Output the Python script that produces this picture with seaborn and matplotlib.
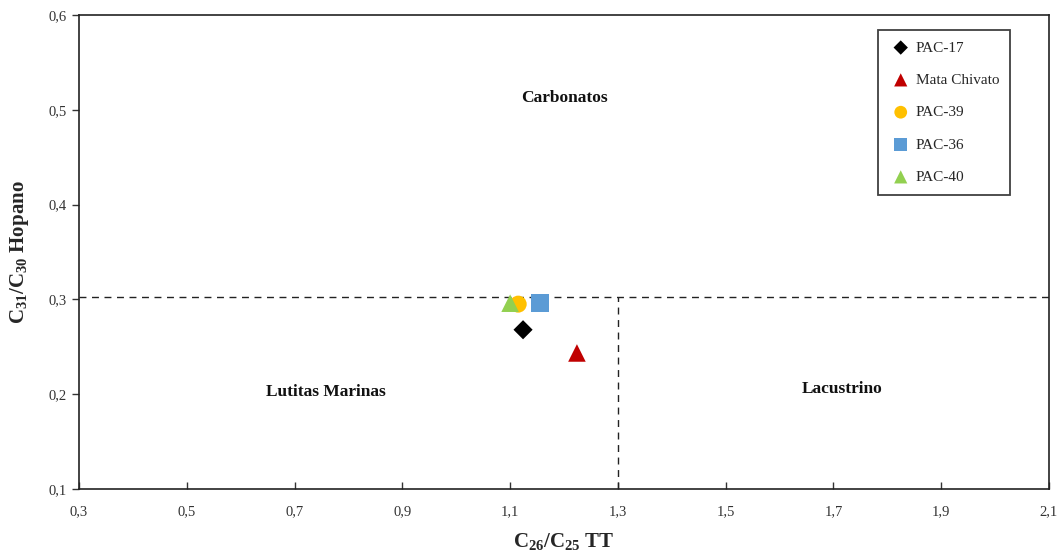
import matplotlib
matplotlib.use("Agg")
import matplotlib.pyplot as plt
import seaborn as sns
import pandas as pd

# Sample values: C26/C25 tricyclic terpanes vs C31/C30 hopane
samples = ["PAC-17", "Mata Chivato", "PAC-39", "PAC-36", "PAC-40"]
c26_c25_tt = [1.124, 1.224, 1.115, 1.155, 1.100]
c31_c30_hop = [0.268, 0.2435, 0.295, 0.296, 0.296]

x_ticks = [0.3, 0.5, 0.7, 0.9, 1.1, 1.3, 1.5, 1.7, 1.9, 2.1]
x_tick_labels = ["0,3", "0,5", "0,7", "0,9", "1,1", "1,3", "1,5", "1,7", "1,9", "2,1"]
y_ticks = [0.1, 0.2, 0.3, 0.4, 0.5, 0.6]
y_tick_labels = ["0,1", "0,2", "0,3", "0,4", "0,5", "0,6"]

# Field boundaries
hop_limit = 0.303
tt_limit = 1.3

field_names = ["Carbonatos", "Lutitas Marinas", "Lacustrino"]
field_x = [1.2, 0.758, 1.716]
field_y = [0.512, 0.202, 0.205]

df = pd.DataFrame({"Muestra": samples, "TT": c26_c25_tt, "Hop": c31_c30_hop})

sns.set_theme(style="white")
plt.rcParams["font.family"] = ["Liberation Serif", "DejaVu Serif"]
plt.rcParams["mathtext.fontset"] = "custom"
plt.rcParams["mathtext.rm"] = "Liberation Serif:bold"
plt.rcParams["mathtext.bf"] = "Liberation Serif:bold"
plt.rcParams["mathtext.it"] = "Liberation Serif:bold"

palette = {"PAC-17": "#000000", "Mata Chivato": "#C00000", "PAC-39": "#FFC000",
           "PAC-36": "#5B9BD5", "PAC-40": "#92D050"}
markers = {"PAC-17": "D", "Mata Chivato": "^", "PAC-39": "o",
           "PAC-36": "s", "PAC-40": "^"}
sizes = {"PAC-17": 95, "Mata Chivato": 160, "PAC-39": 150, "PAC-36": 165, "PAC-40": 160}

fig = plt.figure(figsize=(10.64, 5.57), dpi=100)
ax = fig.add_axes([79 / 1064, 1 - 489 / 557, 970 / 1064, 474 / 557])

# Boundary lines
ax.axhline(hop_limit, color="#222222", lw=1.0, ls=(0, (5, 4)), zorder=1)
ax.plot([tt_limit, tt_limit], [0.1, hop_limit], color="#222222", lw=1.0,
        ls=(0, (5, 4)), zorder=1)

order = ["PAC-17", "Mata Chivato", "PAC-36", "PAC-39", "PAC-40"]
for name in order:
    sub = df[df["Muestra"] == name]
    sns.scatterplot(data=sub, x="TT", y="Hop", ax=ax, color=palette[name],
                    marker=markers[name], s=sizes[name], edgecolor="none",
                    label=name, zorder=3)

for name, fx, fy in zip(field_names, field_x, field_y):
    ax.text(fx, fy, name, ha="center", va="center", fontsize=12.5,
            fontweight="bold", color="#111111")

ax.set_xlim(0.3, 2.1)
ax.set_ylim(0.1, 0.6)
ax.set_xticks(x_ticks)
ax.set_xticklabels(x_tick_labels)
ax.set_yticks(y_ticks)
ax.set_yticklabels(y_tick_labels)
ax.tick_params(axis="x", direction="in", length=5, width=1, labelsize=10.5,
               bottom=True, pad=12, colors="#333333")
ax.tick_params(axis="y", direction="out", length=5, width=1, labelsize=10.5,
               left=True, pad=4, colors="#333333")
for sp in ax.spines.values():
    sp.set_color("#222222")
    sp.set_linewidth(1.2)

ax.set_xlabel("C$_{26}$/C$_{25}$ TT", fontsize=15, fontweight="bold")
ax.xaxis.set_label_coords(0.5, -(541 - 489) / 474)
ax.xaxis.label.set_va("center")
ax.set_ylabel("C$_{31}$/C$_{30}$ Hopano", fontsize=15, fontweight="bold")
ax.yaxis.set_label_coords(-(79 - 20) / 970, 0.5)
ax.yaxis.label.set_va("center")

handles, labels = ax.get_legend_handles_labels()
wanted = ["PAC-17", "Mata Chivato", "PAC-39", "PAC-36", "PAC-40"]
hl = dict(zip(labels, handles))
leg = ax.legend([hl[w] for w in wanted], wanted, loc="upper right",
                bbox_to_anchor=(0.96, 0.968), borderaxespad=0, frameon=True,
                fancybox=False, edgecolor="#111111", fontsize=11,
                labelspacing=1.22, handletextpad=0.2, handlelength=1.6,
                borderpad=0.7, markerscale=0.75)
leg.get_frame().set_linewidth(1.3)

fig.savefig("out.png", dpi=100)
